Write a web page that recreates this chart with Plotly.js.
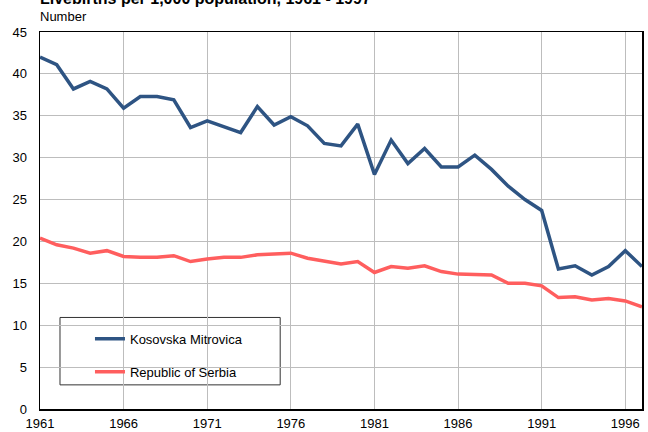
<!DOCTYPE html>
<html>
<head>
<meta charset="utf-8">
<script src="https://cdn.plot.ly/plotly-3.0.1.min.js"></script>
<style>html,body{margin:0;padding:0;background:#fff;}#chart{width:648px;height:432px;}</style>
</head>
<body>
<div id="chart"></div>
<script>
const years = [1961,1962,1963,1964,1965,1966,1967,1968,1969,1970,1971,1972,1973,1974,1975,1976,1977,1978,1979,1980,1981,1982,1983,1984,1985,1986,1987,1988,1989,1990,1991,1992,1993,1994,1995,1996,1997];
const kosovska = [42.0,41.1,38.2,39.1,38.2,35.9,37.3,37.3,36.9,33.6,34.4,33.7,33.0,36.1,33.9,34.9,33.8,31.7,31.4,34.0,28.0,32.1,29.3,31.1,28.9,28.9,30.3,28.6,26.6,25.0,23.7,16.7,17.1,16.0,17.0,18.9,17.0];
const serbia = [20.4,19.6,19.2,18.6,18.9,18.2,18.1,18.1,18.3,17.6,17.9,18.1,18.1,18.4,18.5,18.6,18.0,17.6,17.3,17.6,16.3,17.0,16.8,17.1,16.4,16.1,16.1,16.0,15.0,15.0,14.7,13.3,13.4,13.0,13.2,12.9,12.2];
const xTicks = [1961,1966,1971,1976,1981,1986,1991,1996];
const yTicks = [0,5,10,15,20,25,30,35,40,45];

const traces = [
  {x: years, y: kosovska, name: 'Kosovska Mitrovica', type: 'scatter', mode: 'lines',
   line: {color: '#2E5483', width: 3.5}, legendgroup: 'a'},
  {x: years, y: serbia, name: 'Republic of Serbia', type: 'scatter', mode: 'lines',
   line: {color: '#FF5E5E', width: 3.5}, legendgroup: 'b'}
];

const layout = {
  width: 648, height: 432,
  margin: {l: 40, r: 6, t: 32, b: 23},
  paper_bgcolor: '#fff', plot_bgcolor: '#fff',
  font: {family: 'Liberation Sans, Arial, sans-serif', size: 13, color: '#000'},
  showlegend: true,
  legend: {x: 0.083, xanchor: 'left', y: 0.226, yanchor: 'top', bgcolor: 'rgba(0,0,0,0)',
           borderwidth: 0, tracegroupgap: 13, font: {size: 13, color: '#000'}},
  xaxis: {range: [1961, 1997], tickvals: xTicks, ticktext: xTicks.map(String),
          showgrid: true, gridcolor: '#bdbdbd', gridwidth: 1,
          showline: true, linecolor: '#000', linewidth: 1.5, mirror: true,
          ticks: 'outside', ticklen: 2, tickcolor: 'rgba(0,0,0,0)', zeroline: false, fixedrange: true},
  yaxis: {range: [0, 45], tickvals: yTicks, ticktext: yTicks.map(String),
          showgrid: true, gridcolor: '#bdbdbd', gridwidth: 1,
          showline: true, linecolor: '#000', linewidth: 1.5, mirror: true,
          ticks: 'outside', ticklen: 9, tickcolor: 'rgba(0,0,0,0)', zeroline: false, fixedrange: true},
  shapes: [
    {type: 'rect', xref: 'paper', yref: 'paper', x0: 0.0332, x1: 0.399, y0: 0.064, y1: 0.2428,
     line: {color: '#333', width: 1}, fillcolor: '#fff', layer: 'below'}
  ],
  annotations: [
    {text: '<b>Livebirths per 1,000 population, 1961 - 1997</b>', xref: 'paper', yref: 'paper',
     x: -0.003, y: 1.061, xanchor: 'left', yanchor: 'bottom', showarrow: false,
     font: {size: 16, color: '#000'}},
    {text: 'Number', xref: 'paper', yref: 'paper', x: -0.003, y: 1.04, xanchor: 'left', yanchor: 'middle',
     showarrow: false, font: {size: 13, color: '#000'}}
  ]
};

Plotly.newPlot('chart', traces, layout, {displayModeBar: false, staticPlot: true});
</script>
</body>
</html>
